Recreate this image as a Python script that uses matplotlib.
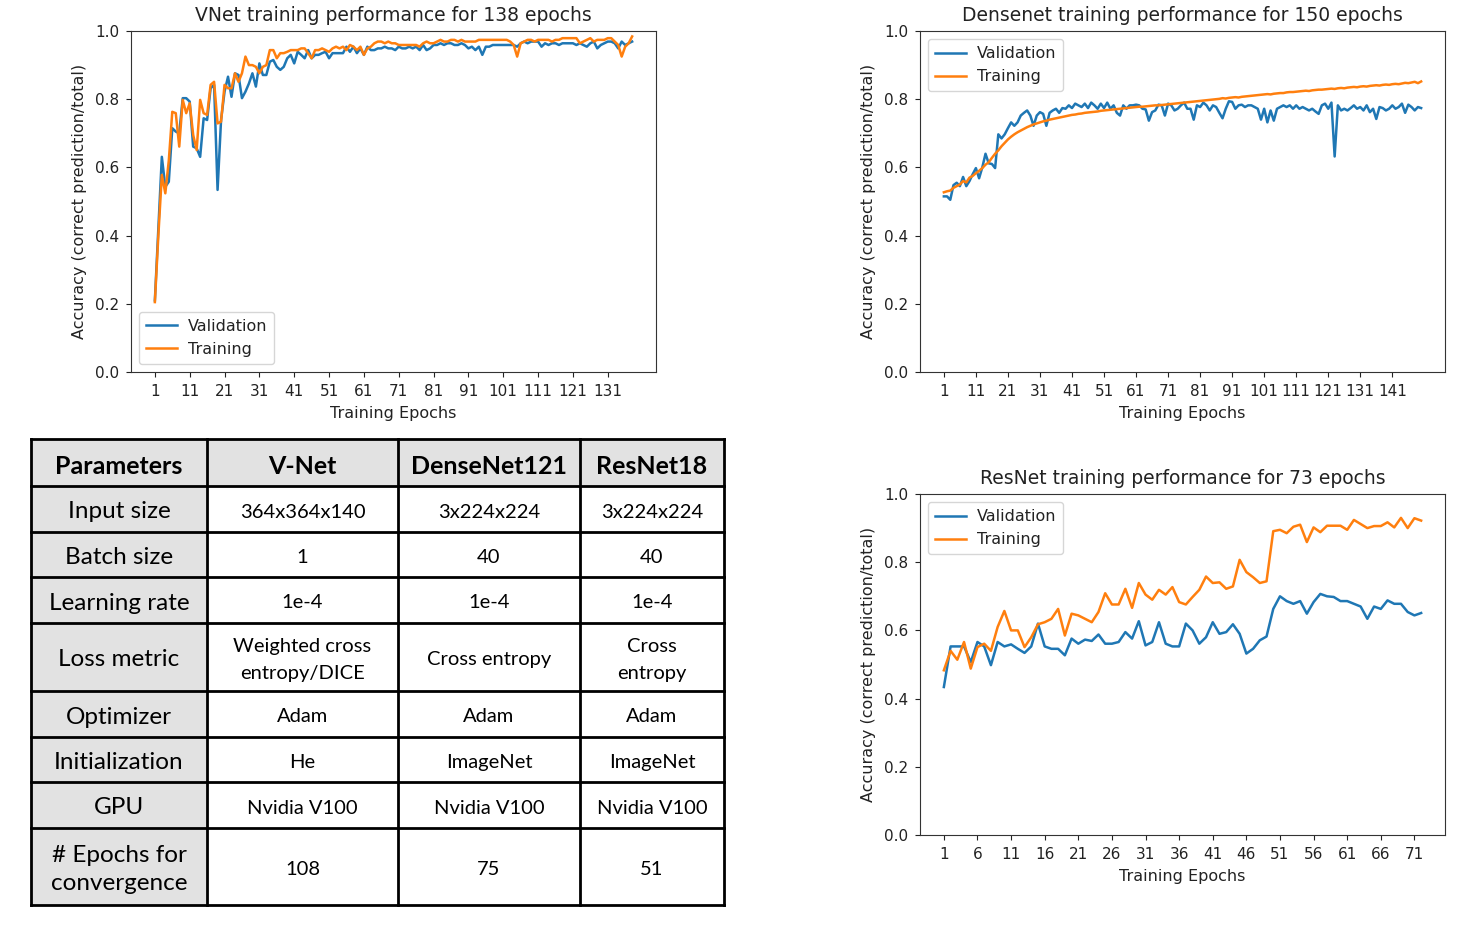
import matplotlib
matplotlib.use("Agg")
import matplotlib.pyplot as plt
from matplotlib.patches import Rectangle

# ---------------- data ----------------
vnet_val = [0.210, 0.420, 0.631, 0.543, 0.558, 0.715, 0.705, 0.700, 0.803, 0.803,
            0.793, 0.661, 0.656, 0.631, 0.744, 0.739, 0.832, 0.842, 0.534, 0.739,
            0.822, 0.866, 0.807, 0.876, 0.871, 0.803, 0.822, 0.846, 0.876, 0.837,
            0.905, 0.871, 0.871, 0.910, 0.915, 0.895, 0.886, 0.895, 0.920, 0.930,
            0.905, 0.939, 0.930, 0.920, 0.944, 0.920, 0.930, 0.930, 0.935, 0.939,
            0.920, 0.935, 0.935, 0.935, 0.935, 0.954, 0.939, 0.954, 0.935, 0.949,
            0.930, 0.954, 0.944, 0.944, 0.949, 0.949, 0.954, 0.949, 0.949, 0.944,
            0.954, 0.949, 0.949, 0.954, 0.949, 0.954, 0.944, 0.959, 0.944, 0.949,
            0.959, 0.959, 0.964, 0.959, 0.964, 0.964, 0.959, 0.959, 0.964, 0.959,
            0.949, 0.954, 0.944, 0.954, 0.930, 0.954, 0.954, 0.959, 0.959, 0.959,
            0.959, 0.959, 0.959, 0.959, 0.954, 0.964, 0.969, 0.964, 0.969, 0.969,
            0.969, 0.954, 0.964, 0.959, 0.964, 0.964, 0.959, 0.964, 0.964, 0.964,
            0.964, 0.959, 0.964, 0.959, 0.954, 0.964, 0.969, 0.949, 0.959, 0.964,
            0.969, 0.969, 0.964, 0.949, 0.969, 0.959, 0.964, 0.969]
vnet_train = [0.205, 0.400, 0.578, 0.524, 0.620, 0.763, 0.759, 0.661, 0.798, 0.759,
              0.788, 0.695, 0.651, 0.798, 0.759, 0.754, 0.842, 0.851, 0.729, 0.734,
              0.842, 0.832, 0.832, 0.876, 0.851, 0.876, 0.925, 0.900, 0.900, 0.895,
              0.876, 0.895, 0.900, 0.944, 0.944, 0.920, 0.935, 0.935, 0.939, 0.944,
              0.944, 0.944, 0.949, 0.949, 0.935, 0.920, 0.944, 0.944, 0.949, 0.944,
              0.939, 0.949, 0.954, 0.949, 0.954, 0.944, 0.959, 0.954, 0.944, 0.954,
              0.930, 0.949, 0.954, 0.964, 0.969, 0.969, 0.964, 0.969, 0.964, 0.964,
              0.959, 0.959, 0.959, 0.959, 0.959, 0.959, 0.954, 0.964, 0.969, 0.964,
              0.964, 0.969, 0.974, 0.969, 0.969, 0.974, 0.974, 0.969, 0.974, 0.969,
              0.969, 0.969, 0.969, 0.974, 0.974, 0.974, 0.974, 0.974, 0.974, 0.974,
              0.974, 0.974, 0.969, 0.959, 0.925, 0.964, 0.969, 0.974, 0.974, 0.969,
              0.974, 0.974, 0.974, 0.974, 0.969, 0.974, 0.974, 0.979, 0.979, 0.979,
              0.979, 0.979, 0.964, 0.969, 0.974, 0.979, 0.969, 0.974, 0.974, 0.974,
              0.979, 0.979, 0.969, 0.959, 0.925, 0.954, 0.964, 0.984]

dense_val = [0.515, 0.515, 0.505, 0.548, 0.555, 0.545, 0.572, 0.545, 0.560, 0.580,
             0.598, 0.568, 0.600, 0.640, 0.612, 0.610, 0.598, 0.697, 0.685, 0.697,
             0.715, 0.732, 0.722, 0.732, 0.752, 0.760, 0.767, 0.752, 0.722, 0.752,
             0.762, 0.757, 0.722, 0.760, 0.767, 0.772, 0.760, 0.774, 0.772, 0.782,
             0.774, 0.787, 0.782, 0.777, 0.787, 0.774, 0.790, 0.782, 0.772, 0.787,
             0.774, 0.790, 0.772, 0.782, 0.760, 0.752, 0.782, 0.772, 0.782, 0.782,
             0.784, 0.782, 0.772, 0.770, 0.737, 0.762, 0.767, 0.784, 0.782, 0.752,
             0.787, 0.782, 0.767, 0.772, 0.782, 0.790, 0.772, 0.772, 0.740, 0.782,
             0.777, 0.790, 0.782, 0.767, 0.782, 0.777, 0.760, 0.744, 0.772, 0.794,
             0.792, 0.772, 0.782, 0.784, 0.777, 0.782, 0.782, 0.777, 0.772, 0.740,
             0.772, 0.732, 0.767, 0.737, 0.772, 0.777, 0.782, 0.777, 0.782, 0.772,
             0.782, 0.772, 0.777, 0.772, 0.767, 0.772, 0.764, 0.757, 0.782, 0.787,
             0.772, 0.790, 0.632, 0.782, 0.767, 0.772, 0.767, 0.774, 0.782, 0.772,
             0.777, 0.767, 0.782, 0.762, 0.772, 0.742, 0.777, 0.774, 0.767, 0.772,
             0.782, 0.772, 0.777, 0.787, 0.760, 0.784, 0.777, 0.767, 0.777, 0.774]
dense_train = [0.527, 0.530, 0.532, 0.540, 0.545, 0.550, 0.560, 0.556, 0.570, 0.575,
               0.583, 0.590, 0.598, 0.608, 0.615, 0.628, 0.640, 0.650, 0.662, 0.672,
               0.682, 0.690, 0.697, 0.703, 0.708, 0.713, 0.718, 0.722, 0.726, 0.729,
               0.732, 0.735, 0.737, 0.740, 0.742, 0.744, 0.746, 0.748, 0.750, 0.752,
               0.754, 0.755, 0.757, 0.758, 0.760, 0.761, 0.762, 0.763, 0.764, 0.766,
               0.767, 0.768, 0.769, 0.770, 0.771, 0.772, 0.773, 0.774, 0.775, 0.776,
               0.777, 0.778, 0.778, 0.779, 0.780, 0.781, 0.782, 0.782, 0.783, 0.784,
               0.785, 0.786, 0.787, 0.788, 0.789, 0.790, 0.791, 0.792, 0.793, 0.794,
               0.795, 0.796, 0.797, 0.798, 0.799, 0.800, 0.801, 0.803, 0.802, 0.804,
               0.805, 0.806, 0.805, 0.807, 0.808, 0.809, 0.810, 0.811, 0.812, 0.813,
               0.814, 0.815, 0.814, 0.816, 0.817, 0.818, 0.818, 0.820, 0.821, 0.821,
               0.822, 0.823, 0.824, 0.825, 0.824, 0.826, 0.827, 0.828, 0.828, 0.829,
               0.830, 0.831, 0.830, 0.832, 0.833, 0.832, 0.834, 0.835, 0.836, 0.835,
               0.837, 0.838, 0.837, 0.839, 0.840, 0.841, 0.840, 0.842, 0.843, 0.842,
               0.844, 0.845, 0.844, 0.846, 0.848, 0.847, 0.849, 0.851, 0.847, 0.852]

res_val = [0.434, 0.553, 0.553, 0.553, 0.507, 0.566, 0.553, 0.498, 0.566, 0.553,
           0.559, 0.546, 0.534, 0.553, 0.620, 0.553, 0.546, 0.546, 0.527, 0.576,
           0.561, 0.573, 0.569, 0.588, 0.561, 0.561, 0.566, 0.595, 0.576, 0.627,
           0.556, 0.566, 0.624, 0.561, 0.553, 0.553, 0.620, 0.600, 0.561, 0.580,
           0.624, 0.590, 0.595, 0.618, 0.590, 0.532, 0.546, 0.571, 0.582, 0.663,
           0.700, 0.686, 0.678, 0.686, 0.649, 0.683, 0.707, 0.700, 0.698, 0.686,
           0.686, 0.678, 0.670, 0.634, 0.670, 0.663, 0.688, 0.678, 0.678, 0.654,
           0.644, 0.651]
res_train = [0.483, 0.540, 0.514, 0.566, 0.488, 0.551, 0.561, 0.540, 0.610, 0.657,
             0.600, 0.600, 0.551, 0.580, 0.618, 0.624, 0.634, 0.663, 0.585, 0.649,
             0.644, 0.634, 0.624, 0.654, 0.709, 0.676, 0.676, 0.722, 0.666, 0.739,
             0.705, 0.690, 0.719, 0.705, 0.727, 0.683, 0.676, 0.698, 0.719, 0.758,
             0.739, 0.741, 0.722, 0.729, 0.807, 0.771, 0.756, 0.739, 0.744, 0.891,
             0.895, 0.885, 0.904, 0.910, 0.859, 0.902, 0.888, 0.907, 0.907, 0.907,
             0.895, 0.924, 0.912, 0.900, 0.906, 0.906, 0.917, 0.902, 0.930, 0.900,
             0.929, 0.922]

table_header = ["Parameters", "V-Net", "DenseNet121", "ResNet18"]
table_rows = ["Input size", "Batch size", "Learning rate", "Loss metric",
              "Optimizer", "Initialization", "GPU", "# Epochs for\nconvergence"]
col_vnet = ["364x364x140", "1", "1e-4", "Weighted cross\nentropy/DICE",
            "Adam", "He", "Nvidia V100", "108"]
col_dense = ["3x224x224", "40", "1e-4", "Cross entropy",
             "Adam", "ImageNet", "Nvidia V100", "75"]
col_res = ["3x224x224", "40", "1e-4", "Cross\nentropy",
           "Adam", "ImageNet", "Nvidia V100", "51"]

# ---------------- figure ----------------
W, H = 1476, 933
fig = plt.figure(figsize=(W / 100, H / 100), dpi=100)

BLUE = "#1f77b4"
ORANGE = "#ff7f0e"
TXT = "#222222"


def add_ax(x0, y0, x1, y1):
    return fig.add_axes([x0 / W, 1 - y1 / H, (x1 - x0) / W, (y1 - y0) / H])


def plot_perf(ax, val, train, title, step, legend_loc):
    ep = list(range(1, len(val) + 1))
    ax.plot(ep, val, color=BLUE, lw=1.8, label="Validation")
    ax.plot(ep, train, color=ORANGE, lw=1.8, label="Training")
    ax.set_ylim(0, 1.0)
    ax.set_yticks([0.0, 0.2, 0.4, 0.6, 0.8, 1.0])
    ax.set_xticks(list(range(1, len(val) + 1, step)))
    ax.tick_params(labelsize=11, pad=5, colors=TXT)
    for s in ax.spines.values():
        s.set_color("#333333")
    ax.set_title(title, fontsize=13.5, pad=7, color=TXT)
    ax.set_xlabel("Training Epochs", fontsize=11.5, labelpad=5, color=TXT)
    ax.set_ylabel("Accuracy (correct prediction/total)", fontsize=11.5,
                  labelpad=6, color=TXT)
    leg = ax.legend(loc=legend_loc, fontsize=11.5, handlelength=1.9,
                    borderpad=0.45, handletextpad=0.7)
    for t in leg.get_texts():
        t.set_color(TXT)


ax1 = add_ax(131, 31, 656, 372)
plot_perf(ax1, vnet_val, vnet_train,
          "VNet training performance for 138 epochs", 10, "lower left")
ax2 = add_ax(920, 31, 1445, 372)
plot_perf(ax2, dense_val, dense_train,
          "Densenet training performance for 150 epochs", 10, "upper left")
ax3 = add_ax(920, 494, 1445, 835)
plot_perf(ax3, res_val, res_train,
          "ResNet training performance for 73 epochs", 5, "upper left")

# ---------------- table ----------------
tab = fig.add_axes([0, 0, 1, 1], zorder=-1)
tab.set_xlim(0, W)
tab.set_ylim(H, 0)
tab.axis("off")

col_x = [31, 207, 398, 580, 724]
row_y = [439, 486, 532, 577, 623, 691, 737, 782, 828, 905]
GRAY = "#e2e2e2"
FONT = "Lato"

# backgrounds
tab.add_patch(Rectangle((col_x[0], row_y[0]), col_x[-1] - col_x[0],
                        row_y[1] - row_y[0], facecolor=GRAY, edgecolor="none"))
tab.add_patch(Rectangle((col_x[0], row_y[1]), col_x[1] - col_x[0],
                        row_y[-1] - row_y[1], facecolor=GRAY, edgecolor="none"))
# grid lines
for x in col_x:
    tab.plot([x, x], [row_y[0], row_y[-1]], color="black", lw=2.0,
             solid_capstyle="projecting")
for y in row_y:
    tab.plot([col_x[0], col_x[-1]], [y, y], color="black", lw=2.0,
             solid_capstyle="projecting")


def cx(i):
    return (col_x[i] + col_x[i + 1]) / 2


def cy(j):
    return (row_y[j] + row_y[j + 1]) / 2


for i, h in enumerate(table_header):
    tab.text(cx(i), cy(0) + 4, h, ha="center", va="center", fontsize=18,
             fontweight="bold", family=FONT, color="black")

for j, lab in enumerate(table_rows):
    tab.text(cx(0), cy(j + 1) + 3, lab, ha="center", va="center",
             fontsize=17.5, family=FONT, color="black", linespacing=1.45)
    for i, col in enumerate([col_vnet, col_dense, col_res]):
        tab.text(cx(i + 1), cy(j + 1) + 3, col[j], ha="center", va="center",
                 fontsize=14.5, family=FONT, color="black", linespacing=1.65)

fig.savefig("out.png", dpi=100)
